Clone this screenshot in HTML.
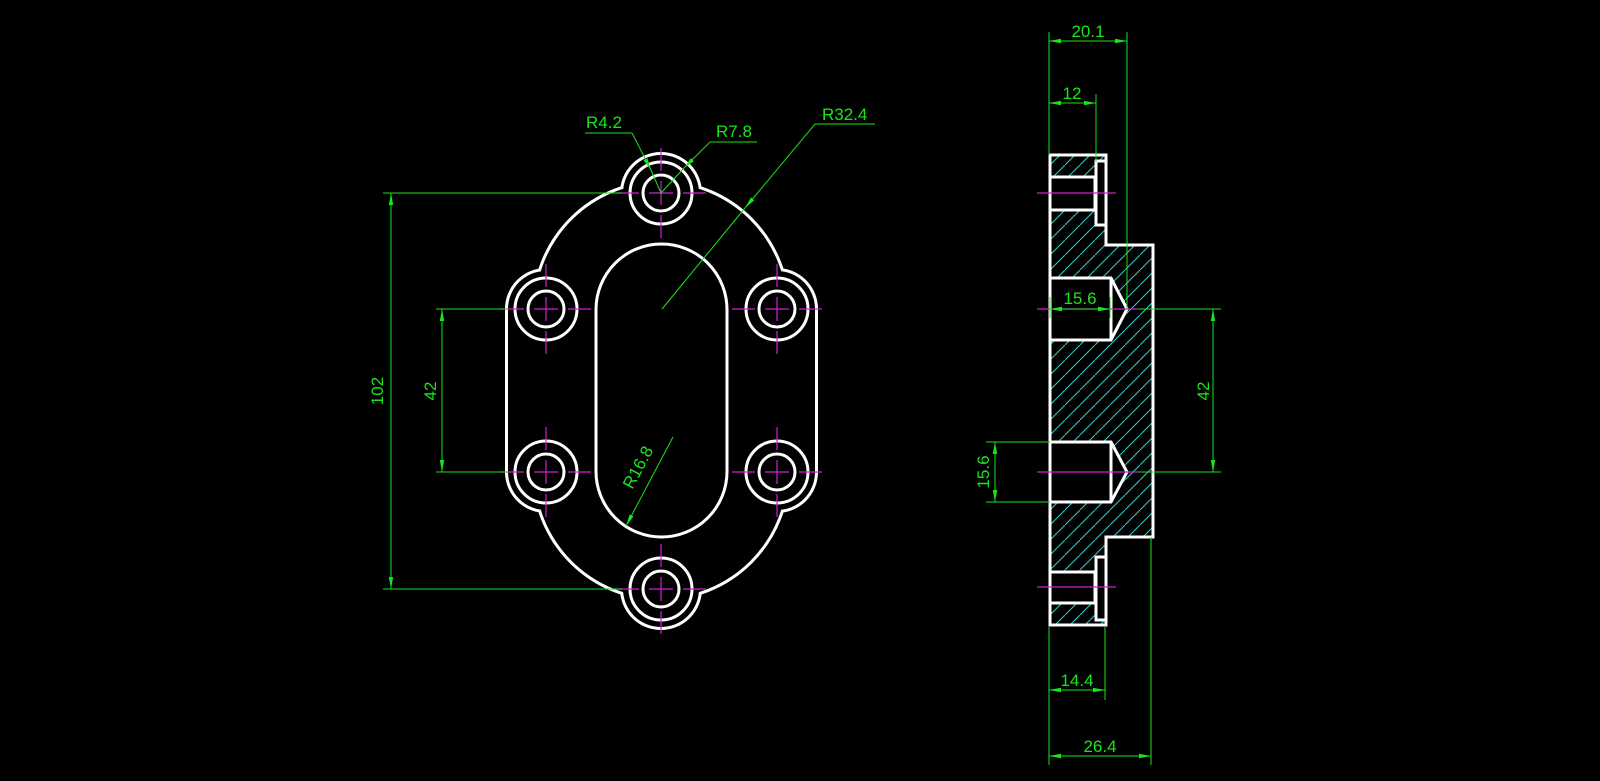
<!DOCTYPE html>
<html><head><meta charset="utf-8"><style>
html,body{margin:0;padding:0;background:#000;}
svg{display:block;}
text{font-family:"Liberation Sans",sans-serif;font-size:17px;fill:#19e619;}
</style></head><body>
<svg width="1600" height="781" viewBox="0 0 1600 781" xmlns="http://www.w3.org/2000/svg">
<defs>
<marker id="a" viewBox="0 0 12 6" refX="12" refY="3" markerWidth="12" markerHeight="6" markerUnits="userSpaceOnUse" orient="auto-start-reverse"><path d="M0,0.8 L12,3 L0,5.2z" fill="#19e619"/></marker>
<pattern id="h" patternUnits="userSpaceOnUse" width="15" height="15"><path d="M-1,16 L16,-1" stroke="#2fcfcf" stroke-width="1"/></pattern>
</defs>

<!-- FRONT VIEW outer union -->
<g fill="#000" stroke="#fff" stroke-width="6">
<circle cx="661" cy="309" r="126"/><circle cx="661" cy="472" r="126"/>
<rect x="508" y="309" width="307" height="163"/>
<circle cx="661" cy="193" r="38"/><circle cx="661" cy="589" r="38"/>
<circle cx="546" cy="309" r="38"/><circle cx="777" cy="309" r="38"/>
<circle cx="546" cy="472" r="38"/><circle cx="777" cy="472" r="38"/>
</g>
<g fill="#000" stroke="none">
<circle cx="661" cy="309" r="126"/><circle cx="661" cy="472" r="126"/>
<rect x="508" y="309" width="307" height="163"/>
<circle cx="661" cy="193" r="38"/><circle cx="661" cy="589" r="38"/>
<circle cx="546" cy="309" r="38"/><circle cx="777" cy="309" r="38"/>
<circle cx="546" cy="472" r="38"/><circle cx="777" cy="472" r="38"/>
</g>
<g fill="none" stroke="#fff" stroke-width="3">
<rect x="596" y="244" width="131" height="293" rx="65.5" ry="65.5"/>
<circle cx="661" cy="193" r="18"/><circle cx="661" cy="193" r="31"/>
<circle cx="661" cy="589" r="18"/><circle cx="661" cy="589" r="31"/>
<circle cx="546" cy="309" r="18"/><circle cx="546" cy="309" r="31"/>
<circle cx="777" cy="309" r="18"/><circle cx="777" cy="309" r="31"/>
<circle cx="546" cy="472" r="18"/><circle cx="546" cy="472" r="31"/>
<circle cx="777" cy="472" r="18"/><circle cx="777" cy="472" r="31"/>
</g>
<!-- center marks -->
<g stroke="#d020d0" stroke-width="1.2" fill="none">
<path d="M649,193h24M661,181v24M616,193h23M683,193h23M661,148v23M661,215v23"/>
<path d="M649,589h24M661,577v24M616,589h23M683,589h23M661,544v23M661,611v23"/>
<path d="M534,309h24M546,297v24M501,309h23M568,309h23M546,264v23M546,331v23"/>
<path d="M765,309h24M777,297v24M732,309h23M799,309h23M777,264v23M777,331v23"/>
<path d="M534,472h24M546,460v24M501,472h23M568,472h23M546,427v23M546,494v23"/>
<path d="M765,472h24M777,460v24M732,472h23M799,472h23M777,427v23M777,494v23"/>
</g>
<!-- front dims -->
<g stroke="#19e619" stroke-width="1" fill="none">
<path d="M383,193H622M383,589H622M436,309H508M436,472H508"/>
<line x1="391" y1="193" x2="391" y2="589" marker-start="url(#a)" marker-end="url(#a)"/>
<line x1="442" y1="309" x2="442" y2="472" marker-start="url(#a)" marker-end="url(#a)"/>
<path d="M585,133H632"/><line x1="632" y1="133" x2="651" y2="170" marker-end="url(#a)"/><path d="M651,170L661,193"/>
<path d="M757,142H710"/><line x1="710" y1="142" x2="684" y2="168" marker-end="url(#a)"/><path d="M684,168L661,193"/>
<path d="M875,124H815"/><line x1="815" y1="124" x2="745" y2="208" marker-end="url(#a)"/><path d="M745,208L662,309"/>
<line x1="673" y1="437" x2="626" y2="526" marker-end="url(#a)"/>
</g>
<text x="377" y="391" text-anchor="middle" transform="rotate(-90 377 391)" dy="6">102</text>
<text x="430" y="391" text-anchor="middle" transform="rotate(-90 430 391)" dy="6">42</text>
<text x="586" y="128">R4.2</text>
<text x="716" y="137">R7.8</text>
<text x="822" y="120">R32.4</text>
<text x="643" y="470" text-anchor="middle" transform="rotate(-62 643 470)">R16.8</text>

<!-- SIDE VIEW -->
<path d="M1050,155H1106V245H1153V537H1106V625H1050Z" fill="url(#h)" stroke="#fff" stroke-width="3"/>
<g fill="#000" stroke="#fff" stroke-width="3">
<rect x="1050" y="177" width="45" height="33"/>
<rect x="1050" y="572" width="45" height="31"/>
<rect x="1096" y="161" width="10" height="64"/>
<rect x="1096" y="557" width="10" height="63"/>
<path d="M1050,278H1111L1127,309L1111,340H1050Z"/>
<path d="M1050,442H1111L1127,472L1111,502H1050Z"/>
</g>
<path d="M1111,278V340M1111,442V502" stroke="#fff" stroke-width="3"/>
<g stroke="#d020d0" stroke-width="1.2">
<path d="M1037,193H1116M1037,309H1138M1037,472H1138M1037,587H1116"/>
</g>
<g stroke="#19e619" stroke-width="1" fill="none">
<path d="M1049,32V155M1127,32V310M1096,94V162M1138,309H1221M1138,472H1221M986,442H1050M986,502H1050M1050,297V318M1110,297V318"/>
<path d="M1049,627V765M1105,627V700M1151,537V765"/>
<line x1="1049" y1="41" x2="1127" y2="41" marker-start="url(#a)" marker-end="url(#a)"/>
<line x1="1049" y1="103" x2="1096" y2="103" marker-start="url(#a)" marker-end="url(#a)"/>
<line x1="1050" y1="309" x2="1110" y2="309" marker-start="url(#a)" marker-end="url(#a)"/>
<line x1="1213" y1="309" x2="1213" y2="472" marker-start="url(#a)" marker-end="url(#a)"/>
<line x1="995" y1="442" x2="995" y2="502" marker-start="url(#a)" marker-end="url(#a)"/>
<line x1="1049" y1="690" x2="1105" y2="690" marker-start="url(#a)" marker-end="url(#a)"/>
<line x1="1049" y1="756" x2="1151" y2="756" marker-start="url(#a)" marker-end="url(#a)"/>
</g>
<text x="1088" y="37" text-anchor="middle">20.1</text>
<text x="1072" y="99" text-anchor="middle">12</text>
<text x="1080" y="304" text-anchor="middle">15.6</text>
<text x="1203" y="391" text-anchor="middle" transform="rotate(-90 1203 391)" dy="6">42</text>
<text x="983" y="472" text-anchor="middle" transform="rotate(-90 983 472)" dy="6">15.6</text>
<text x="1077" y="686" text-anchor="middle">14.4</text>
<text x="1100" y="752" text-anchor="middle">26.4</text>
</svg>
</body></html>
